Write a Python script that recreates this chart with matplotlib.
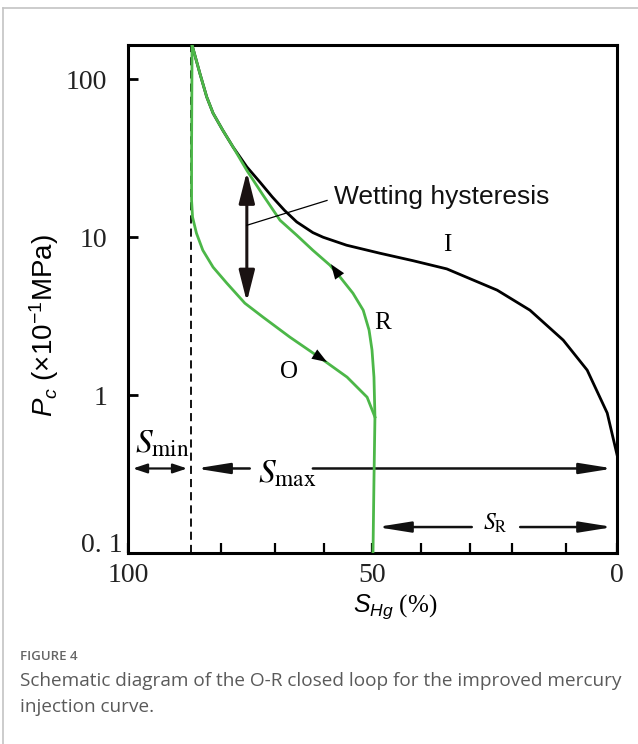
import matplotlib
matplotlib.use("Agg")
import matplotlib.pyplot as plt
from matplotlib.lines import Line2D
from matplotlib.ticker import FixedLocator, FixedFormatter, NullLocator

plt.rcParams["mathtext.fontset"] = "custom"
plt.rcParams["mathtext.rm"] = "Liberation Sans"
plt.rcParams["mathtext.it"] = "Liberation Sans:italic"
plt.rcParams["mathtext.bf"] = "Liberation Sans:bold"

# Mercury injection curve I: S_Hg (%) vs capillary pressure (x10^-1 MPa)
inj_s = [86.9, 85.3, 83.9, 82.6, 80.6, 78.5, 75.7, 73.0, 70.5, 68.0, 65.5,
         62.2, 60.1, 55.3, 48.5, 41.7, 34.8, 24.5, 17.8, 11.0, 6.1, 2.0, 0.0]
inj_p = [165, 109, 77.3, 61, 47.5, 37.2, 27.9, 22.3, 18.0, 14.8, 12.5,
         10.7, 10.0, 8.9, 7.92, 7.1, 6.3, 4.62, 3.45, 2.23, 1.44, 0.77, 0.42]

# Withdrawal curve R
ret_s = [86.9, 85.3, 83.9, 82.6, 80.6, 78.5, 75.7, 72.4, 68.9, 65.5, 62.2,
         58.7, 56.6, 54.0, 51.9, 50.7, 50.1, 49.7, 49.5, 49.7, 49.9]
ret_p = [165, 109, 77.3, 61, 47.5, 37.2, 26.5, 18.5, 12.8, 10.3, 8.27,
         6.65, 5.58, 4.42, 3.45, 2.58, 1.93, 1.30, 0.726, 0.29, 0.1]

# Re-injection curve O
reo_s = [86.9, 87.0, 87.0, 86.8, 86.0, 84.7, 82.6, 79.8, 76.1, 72.4, 66.9,
         60.1, 55.2, 51.1, 49.5]
reo_p = [165, 35.5, 17.1, 13.4, 10.6, 8.27, 6.46, 5.12, 3.82, 3.12, 2.33,
         1.67, 1.30, 0.97, 0.726]

s_min_pos = 87.2
x_major = [100, 50, 0]
x_major_labels = ["100", "50", "0"]
x_minor = [81, 70, 60, 40, 30, 21.5, 10.5]
y_major = [1, 10, 100]
y_major_labels = ["1", "10", "100"]

GREEN = "#4cb748"
SERIF = "Liberation Serif"
SANS = "Liberation Sans"

W, H = 638, 744
fig = plt.figure(figsize=(W / 100, H / 100), dpi=100)

# card outline
fig.add_artist(Line2D([3 / W, 1.0], [1 - 8 / H, 1 - 8 / H], transform=fig.transFigure,
                      color="#c4c4c4", lw=1.2))
fig.add_artist(Line2D([3 / W, 3 / W], [0.0, 1 - 8 / H], transform=fig.transFigure,
                      color="#c4c4c4", lw=1.2))

ax = fig.add_axes([128 / W, 1 - 553 / H, (617 - 128) / W, (553 - 45) / H])
ax.set_yscale("log")
ax.set_xlim(100, 0)
ax.set_ylim(0.1, 165)

for sp in ax.spines.values():
    sp.set_linewidth(2.2)

ax.yaxis.set_major_locator(FixedLocator(y_major))
ax.yaxis.set_major_formatter(FixedFormatter(y_major_labels))
ax.yaxis.set_minor_locator(NullLocator())
ax.set_xticks(x_major)
ax.set_xticklabels(x_major_labels)
ax.set_xticks(x_minor, minor=True)
ax.tick_params(axis="y", which="major", direction="in", length=7, width=2, pad=15,
               labelsize=20)
ax.tick_params(axis="x", which="major", direction="in", length=7, width=1.6, pad=7,
               labelsize=20)
ax.tick_params(axis="x", which="minor", direction="in", length=7, width=1.6)
for lab in ax.get_xticklabels() + ax.get_yticklabels():
    lab.set_fontfamily(SERIF)
    lab.set_color("#222222")

fig.text(123 / W, 1 - 546 / H, "0. 1", ha="right", va="center", family=SERIF,
         fontsize=20, color="#222222")

# S_min boundary
ax.axvline(s_min_pos, color="k", lw=1.3, ls=(0, (4.5, 2.8)), zorder=2)

# curves
ax.plot(inj_s, inj_p, color="k", lw=2.0, zorder=3, solid_joinstyle="round")
ax.plot(ret_s, ret_p, color=GREEN, lw=2.0, zorder=4, solid_joinstyle="round")
ax.plot(reo_s, reo_p, color=GREEN, lw=2.0, zorder=4, solid_joinstyle="round")

# direction arrows on R (upward) and O (downward)
head = dict(arrowstyle="-|>,head_length=0.6,head_width=0.22", color="k", lw=0,
            mutation_scale=18, shrinkA=0, shrinkB=0)
ax.annotate("", xy=(58.5, 6.75), xytext=(56.6, 5.58), arrowprops=head, zorder=5)
ax.annotate("", xy=(59.3, 1.62), xytext=(64.8, 2.07), arrowprops=head, zorder=5)

# wetting hysteresis double arrow and leader
big = dict(arrowstyle="<|-|>,head_length=0.95,head_width=0.24", color="#1a1212",
           lw=2.2, mutation_scale=20, shrinkA=0, shrinkB=0)
ax.annotate("", xy=(75.7, 26.0), xytext=(75.7, 3.9), arrowprops=big, zorder=5)
ax.plot([75.7, 59.3], [11.9, 17.1], color="k", lw=0.9, zorder=5)
ax.text(57.8, 17.9, "Wetting hysteresis", family=SANS, fontsize=19, ha="left",
        va="center", color="#111111")

# curve names
ax.text(34.8, 8.9, "I", family=SERIF, fontsize=18, ha="center", va="center")
ax.text(47.9, 2.86, "R", family=SERIF, fontsize=18, ha="center", va="center")
ax.text(67.1, 1.40, "O", family=SERIF, fontsize=18, ha="center", va="center")

# saturation ranges
rng = dict(arrowstyle="-|>,head_length=1.0,head_width=0.16", color="#111111",
           lw=1.8, mutation_scale=20, shrinkA=0, shrinkB=0)
rng2 = dict(arrowstyle="<|-|>,head_length=0.6,head_width=0.2", color="#111111",
            lw=1.6, mutation_scale=14, shrinkA=0, shrinkB=0)
ax.annotate("", xy=(99.0, 0.343), xytext=(87.9, 0.343), arrowprops=rng2)
ax.annotate("", xy=(86.1, 0.343), xytext=(75.1, 0.343), arrowprops=rng)
ax.annotate("", xy=(0.8, 0.343), xytext=(62.2, 0.343), arrowprops=rng)
ax.annotate("", xy=(49.1, 0.146), xytext=(29.7, 0.146), arrowprops=rng)
ax.annotate("", xy=(0.8, 0.146), xytext=(19.8, 0.146), arrowprops=rng)

ax.text(98.6, 0.43, r"$S_{\mathrm{min}}$", math_fontfamily="stix", fontsize=24,
        ha="left", va="baseline")
ax.text(73.4, 0.281, r"$S_{\mathrm{max}}$", math_fontfamily="stix", fontsize=24,
        ha="left", va="baseline")
ax.text(27.4, 0.140, r"$S_{\mathrm{R}}$", math_fontfamily="stix", fontsize=17,
        ha="left", va="baseline")

# axis titles
fig.text(44 / W, 1 - 326 / H, r"$P_c$ (×10$^{-1}$MPa)", family=SANS, fontsize=20,
         rotation=90, ha="center", va="center", math_fontfamily="custom")
fig.text(395 / W, 1 - 607 / H, r"$S_{Hg}$ (%)", family=SERIF, fontsize=18,
         ha="center", va="center", math_fontfamily="custom")

# caption
fig.text(20 / W, 1 - 656 / H, "FIGURE 4", family="Open Sans", fontsize=9.5,
         color="#666666", ha="left", va="center", fontweight="semibold")
fig.text(20 / W, 1 - 681 / H,
         "Schematic diagram of the O-R closed loop for the improved mercury",
         family="Open Sans", fontsize=13.7, color="#5a5a5a", ha="left", va="center")
fig.text(20 / W, 1 - 707 / H, "injection curve.", family="Open Sans", fontsize=13.7,
         color="#5a5a5a", ha="left", va="center")

fig.savefig("out.png", dpi=100)
